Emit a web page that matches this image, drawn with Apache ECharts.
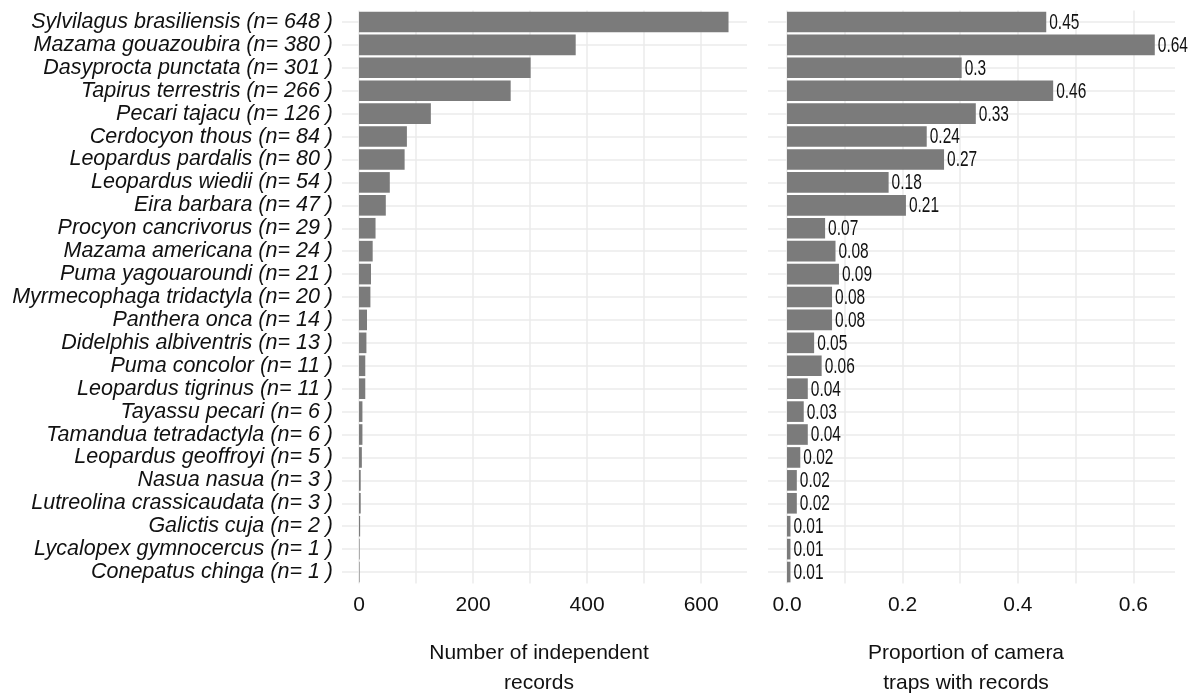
<!DOCTYPE html>
<html>
<head>
<meta charset="utf-8">
<script src="https://cdn.jsdelivr.net/npm/echarts@6/dist/echarts.min.js"></script>
<style>
html,body{margin:0;padding:0;background:#fff;}
#chart{width:1201px;height:695px;}
</style>
</head>
<body>
<div id="chart"></div>
<script>
const species = [
  "Sylvilagus brasiliensis","Mazama gouazoubira","Dasyprocta punctata","Tapirus terrestris",
  "Pecari tajacu","Cerdocyon thous","Leopardus pardalis","Leopardus wiedii","Eira barbara",
  "Procyon cancrivorus","Mazama americana","Puma yagouaroundi","Myrmecophaga tridactyla",
  "Panthera onca","Didelphis albiventris","Puma concolor","Leopardus tigrinus","Tayassu pecari",
  "Tamandua tetradactyla","Leopardus geoffroyi","Nasua nasua","Lutreolina crassicaudata",
  "Galictis cuja","Lycalopex gymnocercus","Conepatus chinga"
];
const counts = [648,380,301,266,126,84,80,54,47,29,24,21,20,14,13,11,11,6,6,5,3,3,2,1,1];
const proportions = [0.449,0.637,0.3025,0.461,0.327,0.242,0.272,0.176,0.206,0.066,0.084,0.090,0.078,0.078,0.047,0.060,0.036,0.029,0.036,0.023,0.017,0.017,0.006,0.006,0.006];
const countTicks = [0,200,400,600];
const propTicks = [0.0,0.2,0.4,0.6];
const titleLeft = "Number of independent\nrecords";
const titleRight = "Proportion of camera\ntraps with records";

const catLabels = species.map((s,i)=> s + " (n= " + counts[i] + " )");
const FONT = "'Liberation Sans', Arial, Helvetica, sans-serif";
const GRID = '#ebebeb';
const BAR = '#7b7b7b';
const fmtProp = v => String(Number(v.toFixed(2)));

const chart = echarts.init(document.getElementById('chart'), null, {renderer:'canvas'});

function hGridAxes(gi){
  return {
    x: {gridIndex:gi, type:'value', min:0, max:1, show:false},
    y: {gridIndex:gi, type:'value', min:0, max:species.length-1, interval:1,
        axisLine:{show:false}, axisTick:{show:false}, axisLabel:{show:false},
        splitLine:{show:true, lineStyle:{color:GRID, width:1.5}}}
  };
}
const h0 = hGridAxes(0), h2 = hGridAxes(2);

const option = {
  animation:false,
  backgroundColor:'#ffffff',
  grid:[
    {left:342, top:22, width:405, height:550},
    {left:359, top:10.5, width:388, height:573},
    {left:768, top:22, width:407, height:550},
    {left:787, top:10.5, width:388, height:573}
  ],
  xAxis:[
    h0.x,
    {gridIndex:1, type:'value', min:0, max:680.4, interval:100,
     axisLine:{show:false}, axisTick:{show:false},
     splitLine:{show:true, showMaxLine:false, lineStyle:{color:GRID, width:1.5}},
     axisLabel:{showMaxLabel:false, fontSize:21, color:'#111', fontFamily:FONT, margin:11,
       formatter:v=> countTicks.indexOf(Math.round(v))>=0 ? String(Math.round(v)) : ''}},
    h2.x,
    {gridIndex:3, type:'value', min:0, max:0.672, interval:0.1,
     axisLine:{show:false}, axisTick:{show:false},
     splitLine:{show:true, showMaxLine:false, lineStyle:{color:GRID, width:1.5}},
     axisLabel:{showMaxLabel:false, fontSize:21, color:'#111', fontFamily:FONT, margin:11,
       formatter:v=> propTicks.some(t=>Math.abs(t-v)<1e-6) ? v.toFixed(1) : ''}}
  ],
  yAxis:[
    h0.y,
    {gridIndex:1, type:'category', data:catLabels, inverse:true,
     axisLine:{show:false}, axisTick:{show:false}, splitLine:{show:false},
     axisLabel:{fontSize:21.5, fontStyle:'italic', color:'#111', fontFamily:FONT, margin:26, interval:0}},
    h2.y,
    {gridIndex:3, type:'category', data:catLabels, inverse:true,
     axisLine:{show:false}, axisTick:{show:false}, splitLine:{show:false},
     axisLabel:{show:false}}
  ],
  series:[
    {type:'bar', xAxisIndex:1, yAxisIndex:1, data:counts, barCategoryGap:'10%',
     itemStyle:{color:BAR}, silent:true},
    {type:'bar', xAxisIndex:3, yAxisIndex:3, data:proportions, barCategoryGap:'10%',
     itemStyle:{color:BAR}, silent:true},
    {type:'custom', xAxisIndex:3, yAxisIndex:3, silent:true, z:5,
     data:proportions.map((v,i)=>[v,i]),
     encode:{x:0, y:1},
     renderItem:(params, api)=>{
       const v = api.value(0);
       const pt = api.coord([v, api.value(1)]);
       return {type:'text', x:pt[0]+3, y:pt[1]+1, scaleX:0.72,
         style:{text:fmtProp(v), fontSize:21.5, fontFamily:FONT, fill:'#111',
                align:'left', verticalAlign:'middle'}};
     }}
  ],
  graphic:[
    {type:'text', x:539, y:638, style:{text:titleLeft, fontSize:21, fontFamily:FONT, fill:'#111',
      align:'center', verticalAlign:'top', lineHeight:30}},
    {type:'text', x:966, y:638, style:{text:titleRight, fontSize:21, fontFamily:FONT, fill:'#111',
      align:'center', verticalAlign:'top', lineHeight:30}}
  ]
};
chart.setOption(option);
</script>
</body>
</html>
